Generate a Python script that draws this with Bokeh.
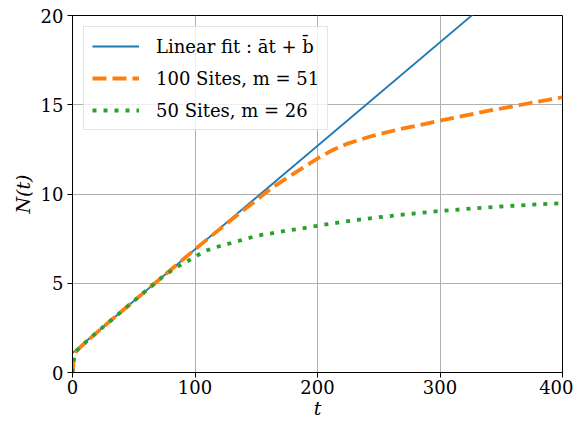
from bokeh.plotting import figure
from bokeh.models import Range1d, FixedTicker, Legend, LegendItem
from bokeh.embed import file_html
from bokeh.resources import INLINE

# ---- data ----
fit_t = [0, 400]
fit_n = [1.1, 24.3]

sites100_t = [0, 1, 3, 10, 25, 50, 75, 100, 125, 150, 162, 175, 190, 201, 212, 224, 243, 265, 288, 310, 335, 360, 380, 400]
sites100_n = [0, 0.75, 1.2, 1.65, 2.55, 4.0, 5.45, 6.9, 8.3, 9.65, 10.3, 10.9, 11.55, 12.03, 12.45, 12.81, 13.22, 13.6, 13.93, 14.25, 14.6, 14.92, 15.17, 15.42]

sites50_t = [0, 1, 3, 10, 25, 50, 75, 90, 100, 106, 115, 132, 150, 175, 186, 200, 225, 250, 275, 300, 325, 350, 375, 400]
sites50_n = [0, 0.7, 1.2, 1.65, 2.55, 4.0, 5.45, 6.1, 6.46, 6.74, 6.98, 7.3, 7.65, 7.95, 8.05, 8.22, 8.48, 8.7, 8.88, 9.05, 9.18, 9.3, 9.4, 9.49]

x_ticks = [0, 100, 200, 300, 400]
y_ticks = [0, 5, 10, 15, 20]

labels = ["Linear fit : \u0101t + b\u0304", "100 Sites, m = 51", "50 Sites, m = 26"]
colors = ["#1f77b4", "#ff7f0e", "#2ca02c"]

FONT = "DejaVu Serif"

p = figure(width=573, height=423, output_backend="svg", toolbar_location=None,
           x_range=Range1d(0, 400), y_range=Range1d(0, 20),
           min_border_left=72, min_border_right=11, min_border_top=15, min_border_bottom=51)

r_fit = p.line(fit_t, fit_n, line_color=colors[0], line_width=1.8)
r100 = p.line(sites100_t, sites100_n, line_color=colors[1], line_width=3.8, line_dash="14 6")
r50 = p.line(sites50_t, sites50_n, line_color=colors[2], line_width=3.8, line_dash="4 7")

for ax in (p.xaxis, p.yaxis):
    ax.major_label_text_font = FONT
    ax.major_label_text_font_size = "18px"
    ax.major_label_text_color = "black"
    ax.axis_label_text_font = FONT
    ax.axis_label_text_font_size = "19px"
    ax.axis_label_text_font_style = "italic"
    ax.axis_label_text_color = "black"
    ax.major_tick_out = 5
    ax.major_tick_in = 0
    ax.minor_tick_line_color = None
    ax.axis_line_color = "black"
    ax.major_tick_line_color = "black"

p.xaxis.major_label_standoff = 2
p.yaxis.major_label_standoff = 4
p.xaxis.ticker = FixedTicker(ticks=x_ticks)
p.yaxis.ticker = FixedTicker(ticks=y_ticks)
p.xaxis.axis_label = "t"
p.yaxis.axis_label = "N(t)"
p.xaxis.axis_label_standoff = 0
p.yaxis.axis_label_standoff = 4

p.xgrid.ticker = FixedTicker(ticks=x_ticks)
p.ygrid.ticker = FixedTicker(ticks=y_ticks)
p.grid.grid_line_color = "#b0b0b0"
p.grid.grid_line_width = 1

p.outline_line_color = "black"
p.outline_line_width = 1
p.background_fill_color = "white"
p.border_fill_color = "white"

legend = Legend(items=[LegendItem(label=labels[0], renderers=[r_fit]),
                       LegendItem(label=labels[1], renderers=[r100]),
                       LegendItem(label=labels[2], renderers=[r50])],
                location="top_left")
legend.margin = 11
legend.padding = 8
legend.spacing = 10
legend.glyph_width = 47
legend.glyph_height = 22
legend.label_height = 22
legend.label_standoff = 17
legend.label_text_font = FONT
legend.label_text_font_size = "18px"
legend.label_text_color = "black"
legend.border_line_color = "#cccccc"
legend.border_line_width = 1
legend.background_fill_color = "white"
legend.background_fill_alpha = 0.8
p.add_layout(legend)

open("out.html", "w").write(file_html(p, INLINE))
